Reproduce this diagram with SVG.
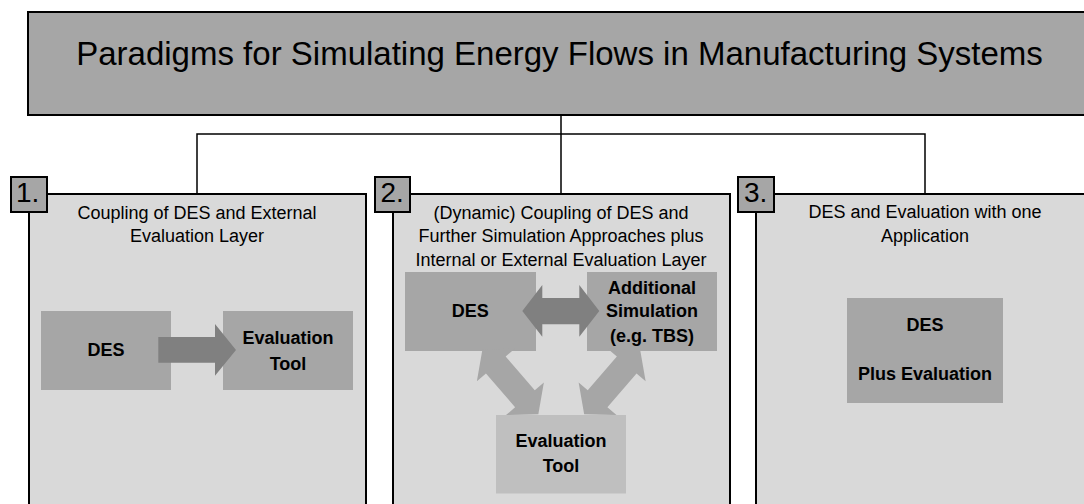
<svg xmlns="http://www.w3.org/2000/svg" width="1084" height="504" viewBox="0 0 1084 504">
<style>
text{font-family:"Liberation Sans",Arial,sans-serif;fill:#000}
.title{font-size:33px}
.ptxt{font-size:18px;text-anchor:middle}
.btxt{font-size:18px;font-weight:bold;text-anchor:middle}
.num{font-size:28px}
.panel{fill:#d9d9d9;stroke:#000;stroke-width:2}
.tag{fill:#a6a6a6;stroke:#000;stroke-width:2}
.box{fill:#a6a6a6}
.boxl{fill:#bfbfbf}
.line{fill:none;stroke:#000;stroke-width:1.5}
.harrow{fill:#808080}
.darrow{fill:#a6a6a6}
</style>
<defs>
<polygon id="dbl" points="0,0 20.5,-25 20.5,-13 65.1,-13 65.1,-25 85.6,0 65.1,25 65.1,13 20.5,13 20.5,25"/>
</defs>
<rect width="1084" height="504" fill="#fff"/>

<g id="title">
<rect x="28" y="12" width="1070" height="103" fill="#a6a6a6" stroke="#000" stroke-width="2"/>
<text class="title" x="559.5" y="65.3" text-anchor="middle">Paradigms for Simulating Energy Flows in Manufacturing Systems</text>
</g>

<g id="panel1">
<rect class="panel" x="29" y="194" width="337" height="330"/>
<rect class="tag" x="11" y="177" width="36" height="35"/>
<text class="num" x="16" y="202">1.</text>
<text class="ptxt" x="197" y="218.5">Coupling of DES and External</text>
<text class="ptxt" x="197" y="242">Evaluation Layer</text>
</g>

<g id="panel2">
<rect class="panel" x="393" y="194" width="337" height="330"/>
<rect class="tag" x="375" y="177" width="35" height="35"/>
<text class="num" x="380.5" y="202">2.</text>
<text class="ptxt" x="561" y="219">(Dynamic) Coupling of DES and</text>
<text class="ptxt" x="561" y="242.3">Further Simulation Approaches plus</text>
<text class="ptxt" x="561" y="265.7">Internal or External Evaluation Layer</text>
</g>

<g id="panel3">
<rect class="panel" x="756" y="194" width="340" height="330"/>
<rect class="tag" x="738" y="177" width="36" height="35"/>
<text class="num" x="744" y="202">3.</text>
<text class="ptxt" x="925" y="218">DES and Evaluation with one</text>
<text class="ptxt" x="925" y="242">Application</text>
</g>

<g id="p1-des">
<rect class="box" x="41" y="311" width="130" height="79"/>
<text class="btxt" x="106" y="356">DES</text>
</g>
<g id="p1-eval">
<rect class="box" x="223" y="311" width="130" height="79"/>
<text class="btxt" x="288" y="344.3">Evaluation</text>
<text class="btxt" x="288" y="370">Tool</text>
</g>

<g id="p2-des">
<rect class="box" x="405" y="272" width="131" height="79"/>
<text class="btxt" x="470.3" y="317.3">DES</text>
</g>
<g id="p2-add">
<rect class="box" x="587" y="272" width="130" height="79"/>
<text class="btxt" x="652" y="294">Additional</text>
<text class="btxt" x="652" y="317.3">Simulation</text>
<text class="btxt" x="652" y="341.7">(e.g. TBS)</text>
</g>
<g id="p2-eval">
<rect class="boxl" x="496" y="415" width="130" height="78.5"/>
<text class="btxt" x="561" y="447.3">Evaluation</text>
<text class="btxt" x="561" y="472.3">Tool</text>
</g>

<g id="p3-des">
<rect class="box" x="847" y="298" width="156" height="105"/>
<text class="btxt" x="925" y="331.3">DES</text>
<text class="btxt" x="925" y="380.3">Plus Evaluation</text>
</g>

<g id="connectors">
<path class="line" d="M561,115V134M197,194V134H925V194M561,134V194"/>
<polygon class="harrow" points="158.3,337 215,337 215,324 236,350 215,375.7 215,362.7 158.3,362.7"/>
<polygon class="harrow" points="522.3,311 542.3,285 542.3,298 579.3,298 579.3,285 599.3,311 579.3,336.7 579.3,324.3 542.3,324.3 542.3,336.7"/>
<use href="#dbl" class="darrow" transform="translate(482.4,349.5) rotate(49.2)"/>
<use href="#dbl" class="darrow" transform="translate(640.1,349.5) rotate(130.8)"/>
</g>
</svg>
